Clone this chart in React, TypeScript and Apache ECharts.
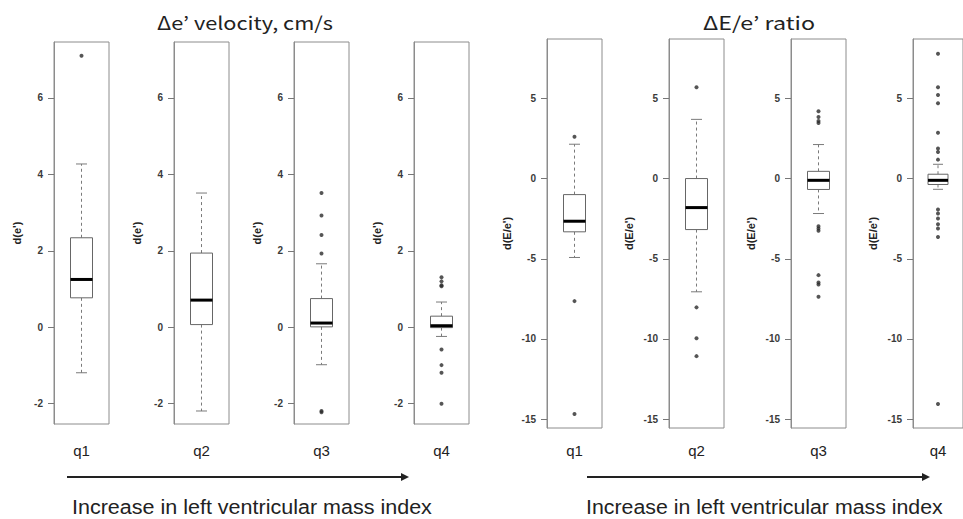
import React, { useEffect, useRef } from 'react';
import * as echarts from 'echarts';

// ---------- data ----------
const categories = ['q1', 'q2', 'q3', 'q4'];

// [lower whisker, Q1, median, Q3, upper whisker]
const velocityBoxes = [
  [-1.19, 0.77, 1.25, 2.34, 4.27],
  [-2.19, 0.07, 0.71, 1.94, 3.51],
  [-0.98, 0.01, 0.11, 0.75, 1.66],
  [-0.24, -0.01, 0.04, 0.29, 0.66],
];
const velocityOutliers = [
  [7.1],
  [],
  [3.51, 2.92, 2.41, 1.93, -2.19, -2.22],
  [1.31, 1.2, 1.1, 1.07, -0.58, -0.99, -1.19, -2.0],
];
const ratioBoxes = [
  [-4.92, -3.32, -2.66, -1.0, 2.14],
  [-7.06, -3.18, -1.81, 0.0, 3.69],
  [-2.18, -0.68, -0.11, 0.45, 2.12],
  [-0.67, -0.37, -0.11, 0.27, 0.89],
];
const ratioOutliers = [
  [2.61, -7.64, -14.68],
  [5.69, -8.03, -9.96, -11.07],
  [4.19, 3.84, 3.59, 3.46, -2.97, -3.11, -3.26, -6.02, -6.48, -6.6, -7.37],
  [7.78, 5.69, 5.21, 4.69, 2.86, 1.87, 1.66, 1.18, -1.93, -2.18, -2.49, -2.85, -3.11, -3.64, -14.06],
];
const velocityTicks = [-2, 0, 2, 4, 6];
const ratioTicks = [-15, -10, -5, 0, 5];
const velocityRange = [-2.53, 7.46];
const ratioRange = [-15.55, 8.7];

const velocityTitle = 'Δe’ velocity, cm/s';
const ratioTitle = 'ΔE/e’ ratio';
const velocityAxisName = "d(e')";
const ratioAxisName = "d(E/e')";
const trendLabel = 'Increase in left ventricular mass index';

// ---------- layout ----------
const velocityFrameLefts = [54, 174, 294, 414];
const ratioFrameLefts = [547, 669, 791, 913];
const frameWidth = 55;

function fitScale(text: string, font: string, target: number) {
  const ctx = document.createElement('canvas').getContext('2d');
  if (!ctx) return 1;
  ctx.font = font;
  const w = ctx.measureText(text).width;
  return w > 0 ? target / w : 1;
}

const renderBox = (params: any, api: any) => {
  const xi = api.value(0);
  const pts = [1, 2, 3, 4, 5].map((i) => api.coord([xi, api.value(i)]));
  const [pMin, pQ1, pMed, pQ3, pMax] = pts;
  const cx = pMin[0];
  const bw = api.size([1, 0])[0] * 0.4;
  const cap = bw / 4;
  const wStyle = { stroke: '#7a7a7a', lineWidth: 1, lineDash: [3, 3] };
  const cStyle = { stroke: '#7a7a7a', lineWidth: 1 };
  return {
    type: 'group',
    children: [
      { type: 'line', shape: { x1: cx, y1: pQ3[1], x2: cx, y2: pMax[1] }, style: wStyle },
      { type: 'line', shape: { x1: cx, y1: pQ1[1], x2: cx, y2: pMin[1] }, style: wStyle },
      { type: 'line', shape: { x1: cx - cap, y1: pMax[1], x2: cx + cap, y2: pMax[1] }, style: cStyle },
      { type: 'line', shape: { x1: cx - cap, y1: pMin[1], x2: cx + cap, y2: pMin[1] }, style: cStyle },
      {
        type: 'rect',
        shape: { x: cx - bw / 2, y: pQ3[1], width: bw, height: pQ1[1] - pQ3[1] },
        style: { fill: '#fff', stroke: '#666', lineWidth: 1 },
      },
      {
        type: 'line',
        shape: { x1: cx - bw / 2, y1: pMed[1], x2: cx + bw / 2, y2: pMed[1] },
        style: { stroke: '#000', lineWidth: 3 },
      },
    ],
  };
};

export default function App() {
  const ref = useRef<HTMLDivElement>(null);

  useEffect(() => {
    if (!ref.current) return;
    const chart = echarts.init(ref.current, undefined, { renderer: 'svg' });

    const grids: any[] = [];
    const xAxes: any[] = [];
    const yAxes: any[] = [];
    const series: any[] = [];

    const panels = [
      { lefts: velocityFrameLefts, top: 42, height: 382, boxes: velocityBoxes, outliers: velocityOutliers, ticks: velocityTicks, range: velocityRange, name: velocityAxisName, nameGap: 32, labelMargin: 19 },
      { lefts: ratioFrameLefts, top: 39, height: 389, boxes: ratioBoxes, outliers: ratioOutliers, ticks: ratioTicks, range: ratioRange, name: ratioAxisName, nameGap: 35, labelMargin: 15 },
    ];

    panels.forEach((p) => {
      categories.forEach((cat, i) => {
        const idx = grids.length;
        grids.push({
          left: p.lefts[i],
          top: p.top,
          width: frameWidth,
          height: p.height,
          show: true,
          borderColor: '#8c8c8c',
          borderWidth: 1,
          backgroundColor: 'transparent',
        });
        xAxes.push({
          type: 'category',
          gridIndex: idx,
          data: [cat],
          boundaryGap: true,
          axisLine: { show: false },
          axisTick: { show: false },
          splitLine: { show: false },
          axisLabel: { fontSize: 15, color: '#222', margin: p.labelMargin, fontFamily: 'Liberation Sans, Arial, sans-serif' },
        });
        yAxes.push({
          type: 'value',
          gridIndex: idx,
          min: p.range[0],
          max: p.range[1],
          splitLine: { show: false },
          axisLine: { show: true, lineStyle: { color: '#8c8c8c' } },
          axisTick: { show: true, length: 6, lineStyle: { color: '#777' }, customValues: p.ticks },
          axisLabel: {
            customValues: p.ticks,
            fontSize: 10,
            fontWeight: 'bold',
            color: '#3a3a3a',
            margin: 11,
            fontFamily: 'Liberation Sans, Arial, sans-serif',
          },
          name: p.name,
          nameLocation: 'middle',
          nameRotate: 90,
          nameGap: p.nameGap,
          nameTextStyle: { fontSize: 11, fontWeight: 'bold', color: '#222', fontFamily: 'Liberation Sans, Arial, sans-serif' },
        });
        series.push({
          type: 'custom',
          xAxisIndex: idx,
          yAxisIndex: idx,
          renderItem: renderBox,
          encode: { x: 0, y: [1, 2, 3, 4, 5] },
          data: [[0, ...p.boxes[i]]],
          z: 2,
        });
        series.push({
          type: 'scatter',
          xAxisIndex: idx,
          yAxisIndex: idx,
          symbol: 'circle',
          symbolSize: 4,
          itemStyle: { color: '#2a2a2a' },
          data: p.outliers[i].map((v) => [0, v]),
          z: 3,
        });
      });
    });

    const titleFont = '18px "Noto Sans CJK JP", "Liberation Sans", sans-serif';
    const trendFont = '21px "Liberation Sans", Arial, sans-serif';
    const sVel = fitScale(velocityTitle, titleFont, 176);
    const sRat = fitScale(ratioTitle, titleFont, 112);
    const sTrend = fitScale(trendLabel, trendFont, 360);
    const sTrend2 = fitScale(trendLabel, trendFont, 357);

    const text = (t: string, x: number, y: number, font: string, s: number) => ({
      type: 'text',
      x,
      y,
      scaleX: s,
      style: { text: t, font, fill: '#222', textAlign: 'left', align: 'left', textVerticalAlign: 'middle', verticalAlign: 'middle' },
    });
    const arrow = (x1: number, x2: number, y: number) => [
      { type: 'line', shape: { x1, y1: y, x2: x2 - 6, y2: y }, style: { stroke: '#222', lineWidth: 2 } },
      { type: 'polygon', shape: { points: [[x2 - 8, y - 4], [x2, y], [x2 - 8, y + 4]] }, style: { fill: '#222' } },
    ];

    chart.setOption({
      animation: false,
      backgroundColor: '#fff',
      grid: grids,
      xAxis: xAxes,
      yAxis: yAxes,
      series,
      graphic: [
        text(velocityTitle, 157, 22, titleFont, sVel),
        text(ratioTitle, 703, 22, titleFont, sRat),
        ...arrow(67, 409, 477),
        ...arrow(587, 930, 477),
        text(trendLabel, 72, 507, trendFont, sTrend),
        text(trendLabel, 586, 507, trendFont, sTrend2),
      ],
    });

    return () => chart.dispose();
  }, []);

  return <div ref={ref} style={{ position: 'fixed', left: 0, top: 0, width: 963, height: 519 }} />;
}
